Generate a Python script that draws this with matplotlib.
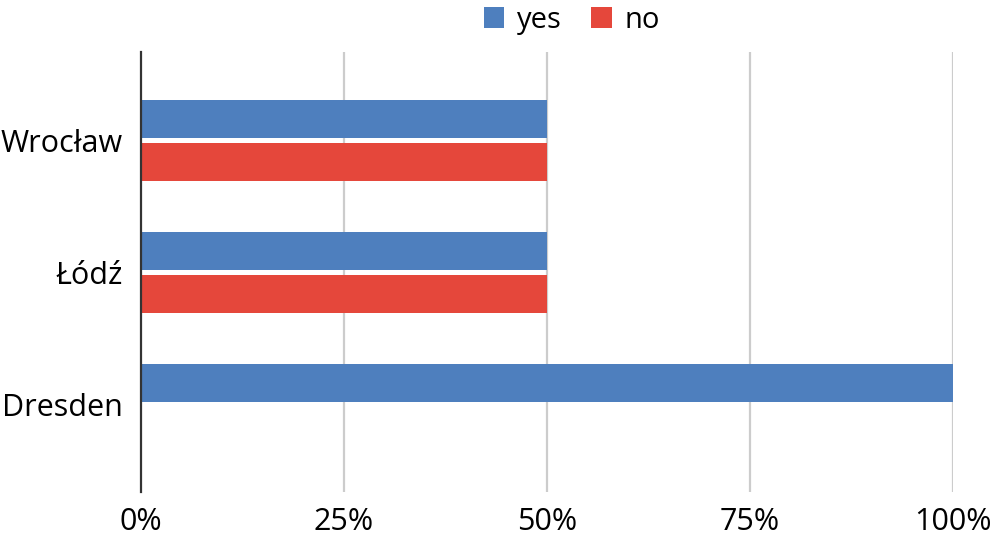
import numpy as np
import matplotlib.pyplot as plt

plt.rcParams['font.family'] = ['Open Sans', 'DejaVu Sans']

cities = ["Wrocław", "Łódź", "Dresden"]
yes = [50, 50, 100]
no = [50, 50, 0]
ticks = [0, 25, 50, 75, 100]

blue = "#4e7fbe"
red = "#e5473b"

fig = plt.figure(figsize=(9.93, 5.43), dpi=100)
ax = fig.add_axes([141/993, 51/543, 812/993, 440/543])

y = np.arange(len(cities))
h = 0.29
off = 0.163
ax.barh(y - off, yes, height=h, color=blue, label="yes")
ax.barh(y + off, no, height=h, color=red, label="no")

ax.set_xlim(0, 100)
ax.set_ylim(2.665, -0.67)
ax.set_yticks(y)
ax.set_yticklabels(cities, fontsize=22)
ax.set_xticks(ticks)
ax.set_xticklabels([f"{t}%" for t in ticks], fontsize=22)
ax.tick_params(length=0)
ax.tick_params(axis="y", pad=13)
ax.tick_params(axis="x", pad=11)

for t in ticks[1:]:
    ax.axvline(t, color="#cccccc", lw=1.6, zorder=0)
for s in ["top", "right", "bottom"]:
    ax.spines[s].set_visible(False)
ax.spines["left"].set_color("#333333")
ax.spines["left"].set_linewidth(1.6)

fig.legend(loc="upper center", bbox_to_anchor=(0.576, 1.038), ncol=2, frameon=False,
           fontsize=21, handlelength=0.7, handleheight=0.7, handletextpad=0.45,
           columnspacing=1.0)

fig.savefig("out.png")
